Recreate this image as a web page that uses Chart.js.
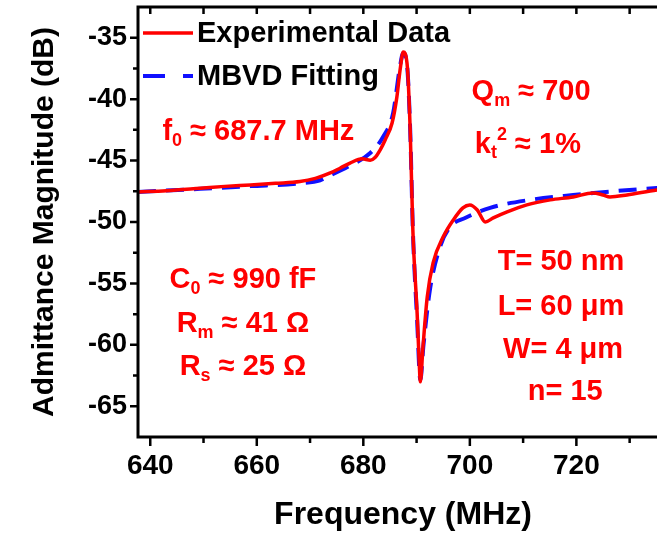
<!DOCTYPE html>
<html>
<head>
<meta charset="utf-8">
<script src="https://cdn.jsdelivr.net/npm/chart.js@4.4.1/dist/chart.umd.min.js"></script>
<style>
    html, body { margin: 0; padding: 0; background: #fff; overflow: hidden; }
    #wrap { width: 657px; height: 534px; overflow: hidden; }
</style>
</head>
<body>
<div id="wrap"><canvas id="admittanceChart"></canvas></div>
<script>
// Measured admittance (red, solid)
const expFreq = [637.7, 643, 649.4, 654, 658.8, 663.5, 668.1, 671, 673.8, 675.7, 677.5, 679.8, 681.3, 682.2, 683.2,
    684.1, 685.4, 686.3, 686.9, 687.5, 688.2, 688.8, 689.3, 690.1, 690.5, 690.7, 691.2, 692.0, 693.1, 695.0,
    696.9, 698.7, 700.0, 701.4, 702.9, 704.4, 707.0, 710.7, 715.1, 719.4, 723.1, 725.0, 726.3, 729.5, 735.1, 737.2];
const expDb = [-47.55, -47.45, -47.25, -47.1, -46.98, -46.85, -46.71, -46.45, -46.01, -45.6, -45.2, -44.85, -44.97, -44.75, -44.1,
    -43.32, -41.94, -39.82, -37.63, -36.16, -37.06, -42.51, -50.64, -57.4, -61.47, -63.01, -60.17, -56.1, -53.33, -51.21,
    -49.83, -48.85, -48.61, -49.02, -50.0, -49.67, -49.18, -48.61, -48.2, -47.96, -47.63, -47.8, -47.96, -47.8, -47.39, -47.3];

// MBVD model fit (blue, dashed)
const fitFreq = [637.7, 649.4, 658.8, 668.1, 671.9, 673.8, 677.0, 681.3, 683.7, 685.6, 686.9, 687.5, 688.2, 688.8,
    689.3, 690.1, 690.7, 691.3, 692.5, 694.4, 696.3, 699.1, 703.8, 711.3, 719.4, 727, 735.1, 737.2];
const fitDb = [-47.55, -47.3, -47.08, -46.85, -46.6, -46.2, -45.52, -44.38, -43.08, -41.12, -37.3, -36.24, -37.2, -42.51,
    -50.64, -57.97, -62.85, -60.0, -55.53, -52.03, -50.4, -49.67, -48.85, -48.2, -47.8, -47.5, -47.23, -47.18];

const xTicks = [640, 660, 680, 700, 720];
const xMinorTicks = [650, 670, 690, 710, 730];
const yTicks = [-35, -40, -45, -50, -55, -60, -65];
const yMinorTicks = [-37.5, -42.5, -47.5, -52.5, -57.5, -62.5];

const seriesLabels = ['Experimental Data', 'MBVD Fitting'];

const FONT = "'Liberation Sans', Arial, sans-serif";
const RED = '#ff0000';
const BLUE = '#1010ff';

// Red parameter labels, anchored in data units (MHz, dB); [text, 'sub' | 'sup']
const annotations = [
    { parts: [['f'], ['0', 'sub'], [' \u2248 687.7 MHz']], f: 660.3, db: -42.5 },
    { parts: [['Q'], ['m', 'sub'], [' \u2248 700']], f: 711.5, db: -39.25 },
    { parts: [['k'], ['t', 'sub'], ['2', 'sup'], [' \u2248 1%']], f: 710.9, db: -43.5 },
    { parts: [['C'], ['0', 'sub'], [' \u2248 990 fF']], f: 657.4, db: -54.55 },
    { parts: [['R'], ['m', 'sub'], [' \u2248 41 \u03A9']], f: 657.4, db: -58.13 },
    { parts: [['R'], ['s', 'sub'], [' \u2248 25 \u03A9']], f: 657.4, db: -61.63 },
    { parts: [['T= 50 nm']], f: 717.1, db: -53.09 },
    { parts: [['L= 60 \u03BCm']], f: 717.1, db: -56.75 },
    { parts: [['W= 4 \u03BCm']], f: 717.5, db: -60.25 },
    { parts: [['n= 15']], f: 717.9, db: -63.66 }
];

function toPoints(xs, ys) {
    return xs.map((x, i) => ({ x, y: ys[i] }));
}

function drawRich(ctx, parts, cx, cy, size) {
    const small = Math.round(size * 0.62);
    const fontFor = kind => `bold ${kind ? small : size}px ${FONT}`;
    let total = 0;
    parts.forEach(p => {
        ctx.font = fontFor(p[1]);
        total += ctx.measureText(p[0]).width;
    });
    let x = cx - total / 2;
    const base = cy + size * 0.36;
    ctx.textAlign = 'left';
    ctx.textBaseline = 'alphabetic';
    parts.forEach(p => {
        ctx.font = fontFor(p[1]);
        let y = base;
        if (p[1] === 'sub') y += size * 0.2;
        if (p[1] === 'sup') y -= size * 0.42;
        ctx.fillText(p[0], x, y);
        x += ctx.measureText(p[0]).width;
    });
}

// Frame, inward/outward tick marks, legend and text labels
const decorPlugin = {
    id: 'decor',
    afterDraw(chart) {
        const { ctx, chartArea: a } = chart;
        const x = chart.scales.x;
        const y = chart.scales.y;
        ctx.save();
        ctx.strokeStyle = '#000';
        ctx.lineWidth = 3;
        ctx.beginPath();
        ctx.moveTo(chart.width, a.top);
        ctx.lineTo(a.left, a.top);
        ctx.lineTo(a.left, a.bottom);
        ctx.lineTo(chart.width, a.bottom);
        ctx.stroke();

        ctx.lineWidth = 2.5;
        ctx.beginPath();
        xTicks.concat(xMinorTicks).forEach(v => {
            const px = x.getPixelForValue(v);
            const len = xTicks.includes(v) ? 9 : 6;
            ctx.moveTo(px, a.bottom);
            ctx.lineTo(px, a.bottom + len);
            ctx.moveTo(px, a.top);
            ctx.lineTo(px, a.top + 7);
        });
        yTicks.concat(yMinorTicks).forEach(v => {
            const py = y.getPixelForValue(v);
            const len = yTicks.includes(v) ? 8 : 5;
            ctx.moveTo(a.left, py);
            ctx.lineTo(a.left - len, py);
        });
        ctx.stroke();

        // legend
        const rows = [33, 76];
        chart.data.datasets.forEach((ds, i) => {
            ctx.strokeStyle = ds.borderColor;
            ctx.lineWidth = ds.borderWidth;
            ctx.setLineDash(i === 1 ? [22, 18] : []);
            ctx.beginPath();
            ctx.moveTo(a.left + 5, rows[i]);
            ctx.lineTo(a.left + 55, rows[i]);
            ctx.stroke();
            ctx.setLineDash([]);
            ctx.fillStyle = '#000';
            ctx.font = `bold 29px ${FONT}`;
            ctx.textAlign = 'left';
            ctx.textBaseline = 'middle';
            ctx.fillText(ds.label, a.left + 59, rows[i] + 1);
        });

        ctx.fillStyle = RED;
        annotations.forEach(an => {
            drawRich(ctx, an.parts, x.getPixelForValue(an.f), y.getPixelForValue(an.db), 29);
        });
        ctx.restore();
    }
};

const canvas = document.getElementById('admittanceChart');
canvas.width = 680;
canvas.height = 534;
canvas.style.width = '680px';
canvas.style.height = '534px';

new Chart(canvas.getContext('2d'), {
    type: 'line',
    data: {
        datasets: [
            {
                label: seriesLabels[0],
                data: toPoints(expFreq, expDb),
                borderColor: RED,
                borderWidth: 3.5,
                pointRadius: 0,
                cubicInterpolationMode: 'monotone',
                fill: false
            },
            {
                label: seriesLabels[1],
                data: toPoints(fitFreq, fitDb),
                borderColor: BLUE,
                borderWidth: 4,
                borderDash: [18, 10],
                pointRadius: 0,
                cubicInterpolationMode: 'monotone',
                fill: false
            }
        ]
    },
    options: {
        responsive: false,
        animation: false,
        layout: { padding: { top: 7, right: 12, bottom: 0, left: 0 } },
        plugins: {
            legend: { display: false },
            tooltip: { enabled: false }
        },
        scales: {
            x: {
                type: 'linear',
                min: 637.7,
                max: 737.2,
                afterBuildTicks: s => { s.ticks = xTicks.map(v => ({ value: v })); },
                afterFit: s => { s.height = 97; s.paddingLeft = 0; s.paddingRight = 0; },
                grid: { display: false, drawTicks: false },
                border: { display: false },
                ticks: {
                    padding: 12,
                    color: '#000',
                    font: { family: FONT, size: 28, weight: 'bold' },
                    callback: v => String(v)
                },
                title: {
                    display: true,
                    text: 'Frequency (MHz)',
                    color: '#000',
                    font: { family: FONT, size: 32, weight: 'bold' },
                    padding: { top: 0, bottom: 0 }
                }
            },
            y: {
                min: -67.5,
                max: -32.5,
                afterBuildTicks: s => { s.ticks = yTicks.map(v => ({ value: v })); },
                afterFit: s => { s.width = 138; s.paddingTop = 0; s.paddingBottom = 0; },
                grid: { display: false, drawTicks: false },
                border: { display: false },
                ticks: {
                    padding: 11,
                    color: '#000',
                    font: { family: FONT, size: 27, weight: 'bold' },
                    callback: v => String(v)
                },
                title: {
                    display: true,
                    text: 'Admittance Magnitude (dB)',
                    color: '#000',
                    font: { family: FONT, size: 30, weight: 'bold' },
                    padding: { top: 27, bottom: 0 }
                }
            }
        }
    },
    plugins: [decorPlugin]
});
</script>
</body>
</html>
